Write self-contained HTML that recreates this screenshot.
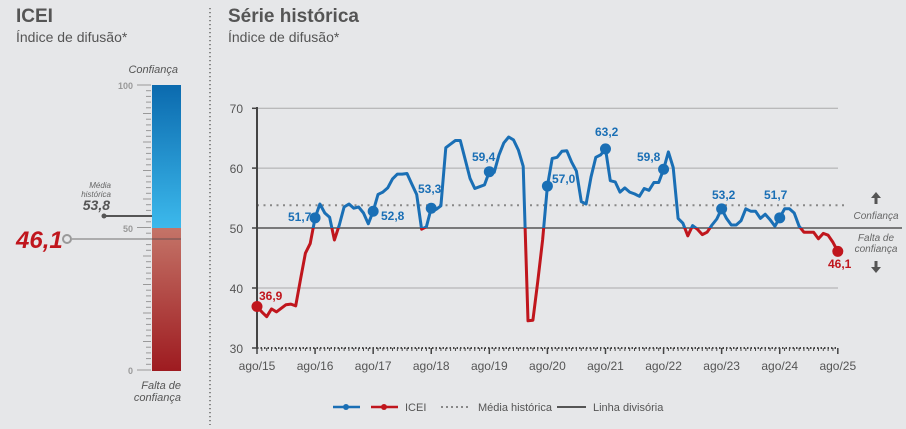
<!DOCTYPE html>
<html><head><meta charset="utf-8">
<style>
html,body{margin:0;padding:0;background:#e6e7e9;}
svg{display:block;font-family:"Liberation Sans Narrow","Liberation Sans",sans-serif;}
</style></head>
<body>
<svg id="s" width="906" height="429" viewBox="0 0 906 429" xmlns="http://www.w3.org/2000/svg">
<defs>
<linearGradient id="gb" x1="0" y1="0" x2="0" y2="1"><stop offset="0" stop-color="#0b6aae"/><stop offset="1" stop-color="#3cb9ec"/></linearGradient>
<linearGradient id="gr" x1="0" y1="0" x2="0" y2="1"><stop offset="0" stop-color="#c47468"/><stop offset="1" stop-color="#9e1b20"/></linearGradient>
<clipPath id="cb"><rect x="0" y="0" width="906" height="228"/></clipPath>
<clipPath id="cr"><rect x="0" y="228" width="906" height="201"/></clipPath>
</defs>
<rect width="906" height="429" fill="#e6e7e9"/>
<text x="16" y="22" font-size="19" font-weight="bold" fill="#555">ICEI</text>
<text x="16" y="42" font-size="14" fill="#555">Índice de difusão*</text>
<text x="178" y="73" font-size="11" font-style="italic" fill="#555" text-anchor="end">Confiança</text>
<rect x="152" y="85" width="29" height="143" fill="url(#gb)"/>
<rect x="152" y="228" width="29" height="143" fill="url(#gr)"/>
<g id="lt" stroke="#999" stroke-width="1"></g>
<text x="133" y="89" font-size="9" fill="#999" text-anchor="end" font-weight="bold">100</text>
<text x="133" y="232" font-size="9" fill="#999" text-anchor="end" font-weight="bold">50</text>
<text x="133" y="374" font-size="9" fill="#999" text-anchor="end" font-weight="bold">0</text>
<text x="111" y="188" font-size="8" font-style="italic" fill="#666" text-anchor="end">Média</text>
<text x="111" y="197" font-size="8" font-style="italic" fill="#666" text-anchor="end">histórica</text>
<text x="110" y="210" font-size="14" font-style="italic" font-weight="bold" fill="#555" text-anchor="end">53,8</text>
<line x1="104" y1="216" x2="152" y2="216" stroke="#555" stroke-width="2"/>
<circle cx="104" cy="216" r="2.5" fill="#555"/>
<line x1="72" y1="239" x2="181" y2="239" stroke="#999" stroke-width="1.5"/>
<line x1="152" y1="239" x2="181" y2="239" stroke="#7a3a35" stroke-width="1"/>
<circle cx="67" cy="239" r="4" fill="#e6e7e9" stroke="#999" stroke-width="2"/>
<text x="16" y="248" font-size="24" font-style="italic" font-weight="bold" fill="#c0161d">46,1</text>
<text x="181" y="389" font-size="11" font-style="italic" fill="#555" text-anchor="end">Falta de</text>
<text x="181" y="401" font-size="11" font-style="italic" fill="#555" text-anchor="end">confiança</text>
<line x1="210" y1="8" x2="210" y2="425" stroke="#555" stroke-width="1.3" stroke-dasharray="1.3 2.7"/>
<text x="228" y="22" font-size="19" font-weight="bold" fill="#555">Série histórica</text>
<text x="228" y="42" font-size="14" fill="#555">Índice de difusão*</text>
<g stroke="#aaa" stroke-width="1">
<line x1="257" y1="108.3" x2="838" y2="108.3"/>
<line x1="257" y1="168.1" x2="838" y2="168.1"/>
<line x1="257" y1="288" x2="838" y2="288"/>
</g>
<line x1="257" y1="228" x2="902" y2="228" stroke="#555" stroke-width="1.5"/>
<line x1="257" y1="205.2" x2="848" y2="205.2" stroke="#888" stroke-width="2" stroke-dasharray="2 4.5"/>
<line x1="257" y1="348" x2="838" y2="348" stroke="#444" stroke-width="2" stroke-dasharray="1.5 2"/>
<line x1="257" y1="107" x2="257" y2="349" stroke="#444" stroke-width="2"/>
<g stroke="#444" stroke-width="1.5">
<line x1="252" y1="108.3" x2="257" y2="108.3"/><line x1="252" y1="168.1" x2="257" y2="168.1"/><line x1="252" y1="228" x2="257" y2="228"/><line x1="252" y1="288" x2="257" y2="288"/><line x1="252" y1="348" x2="257" y2="348"/>
</g>
<g font-size="12" fill="#555" text-anchor="end">
<text x="243" y="113">70</text><text x="243" y="173">60</text><text x="243" y="233">50</text><text x="243" y="293">40</text><text x="243" y="353">30</text>
</g>
<g id="xt"></g>
<g id="series"></g>
<g font-size="12" font-weight="bold" fill="#1a6fb5">
<text x="288" y="221">51,7</text>
<text x="381" y="220">52,8</text>
<text x="418" y="193">53,3</text>
<text x="472" y="161">59,4</text>
<text x="552" y="183">57,0</text>
<text x="595" y="136">63,2</text>
<text x="637" y="161">59,8</text>
<text x="712" y="199">53,2</text>
<text x="764" y="199">51,7</text>
</g>
<g font-size="12" font-weight="bold" fill="#c0161d">
<text x="259" y="300">36,9</text>
<text x="828" y="268">46,1</text>
</g>
<path d="M876 192 l-5 6 h3.5 v6 h3 v-6 h3.5 z" fill="#555"/>
<path d="M876 273 l-5 -6 h3.5 v-6 h3 v6 h3.5 z" fill="#555"/>
<text x="876" y="219" font-size="10" font-style="italic" fill="#666" text-anchor="middle">Confiança</text>
<text x="876" y="241" font-size="10" font-style="italic" fill="#666" text-anchor="middle">Falta de</text>
<text x="876" y="252" font-size="10" font-style="italic" fill="#666" text-anchor="middle">confiança</text>
<line x1="333" y1="407" x2="360" y2="407" stroke="#1a6fb5" stroke-width="2.5"/><circle cx="346" cy="407" r="3" fill="#1a6fb5"/>
<line x1="371" y1="407" x2="398" y2="407" stroke="#c0161d" stroke-width="2.5"/><circle cx="384" cy="407" r="3" fill="#c0161d"/>
<text x="405" y="411" font-size="11" fill="#555">ICEI</text>
<line x1="441" y1="407" x2="471" y2="407" stroke="#888" stroke-width="2" stroke-dasharray="2 3"/>
<text x="478" y="411" font-size="11" fill="#555">Média histórica</text>
<line x1="557" y1="407" x2="586" y2="407" stroke="#555" stroke-width="2"/>
<text x="593" y="411" font-size="11" fill="#555">Linha divisória</text>
</svg>
<script>
var NS="http://www.w3.org/2000/svg";
function el(t,a,p){var e=document.createElementNS(NS,t);for(var k in a)e.setAttribute(k,a[k]);p.appendChild(e);return e;}
var lt=document.getElementById('lt');
for(var i=0;i<=50;i++){var y=85+i*(285/50);var w=(i%5==0)?(i%25==0?14:8):5;el('line',{x1:151-w,y1:y,x2:151,y2:y},lt);}
var v=[36.9,36,35.2,36.5,36,36.6,37.2,37.3,37,41.5,45.8,47.4,
51.7,54,52.5,51.8,48,50.5,53.5,54,53.3,53.5,52.5,50.7,
52.8,55.6,56,56.7,58.2,59,59,59.1,57.3,55.6,49.8,50.2,
53.3,53.1,53.7,63.4,64,64.6,64.6,61.5,58.3,56.6,56.9,57.2,
59.4,59.3,62.2,64.2,65.2,64.7,63,60.3,34.5,34.6,41,48,
57.0,61.6,61.8,62.8,62.9,61,59.5,54.4,54,58.5,61.8,62.2,
63.2,57.9,57.7,56,56.7,56,55.7,55.3,56.6,56.3,57.6,57.6,
59.8,62.7,60.1,51.6,50.8,48.7,50.4,49.8,48.9,49.3,50.5,51.5,
53.2,51.6,50.5,50.5,51.2,53.2,52.8,52.8,51.6,52.3,51.4,50.3,
51.7,53.2,53.2,52.5,50.3,49.3,49.3,49.3,48.2,49.1,48.8,47.6,46.1];
var pts=v.map(function(d,i){return [257+i*4.84,228-(d-50)*5.99];});
var s=pts.map(function(p){return p[0].toFixed(1)+','+p[1].toFixed(1)}).join(' ');
var g=document.getElementById('series');
el('polyline',{points:s,fill:'none',stroke:'#1a6fb5','stroke-width':3,'stroke-linejoin':'round','clip-path':'url(#cb)'},g);
el('polyline',{points:s,fill:'none',stroke:'#c0161d','stroke-width':3,'stroke-linejoin':'round','clip-path':'url(#cr)'},g);
[0,12,24,36,48,60,72,84,96,108,120].forEach(function(i){if(i>=pts.length)return;el('circle',{cx:pts[i][0],cy:pts[i][1],r:5.5,fill:v[i]<50?'#c0161d':'#1a6fb5'},g);});
var xt=document.getElementById('xt');
for(var m=0;m<=120;m++){var x=257+m*4.84;el('line',{x1:x,y1:348,x2:x,y2:m%12==0?354:351,stroke:'#444','stroke-width':m%12==0?1.5:1},xt);
if(m%12==0){var t=el('text',{x:x,y:370,'font-size':12,fill:'#555','text-anchor':'middle'},xt);t.textContent='ago/'+(15+m/12);}}
</script>
</body></html>
